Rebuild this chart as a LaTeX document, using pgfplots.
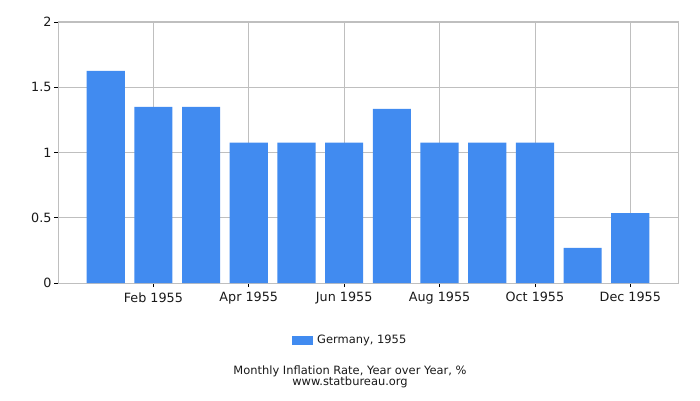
\documentclass[border=0pt]{standalone}
\usepackage{pgfplots}
\pgfplotsset{compat=1.18}
\usepackage{fontspec}
\setmainfont{DejaVu Sans}
\definecolor{barblue}{HTML}{418BF0}
\definecolor{gridgrey}{HTML}{BFBFBF}
\newcommand{\lblfont}{\fontsize{11.5}{13}\selectfont}
\newcommand{\tickfont}{\fontsize{12.8}{14}\selectfont}
\begin{document}
\begin{tikzpicture}[x=1bp,y=1bp]
\path[use as bounding box] (0,0) rectangle (700,400);
\begin{axis}[
  at={(58bp,117bp)}, anchor=south west,
  scale only axis, width=620bp, height=261bp,
  xmin=0, xmax=13, ymin=0, ymax=2,
  ytick={0,0.5,1,1.5,2},
  yticklabels={0,0.5,1,1.5,2},
  xtick={2,4,6,8,10,12},
  xticklabels={Feb 1955,Apr 1955,Jun 1955,Aug 1955,Oct 1955,Dec 1955},
  xmajorgrids, ymajorgrids,
  grid style={gridgrey, line width=0.8bp},
  axis line style={gridgrey, line width=1bp},
  tick style={black, line width=0.8bp},
  tick align=outside,
  major tick length=4bp,
  xtick pos=bottom, ytick pos=left,
  xticklabel style={font=\tickfont, text=black!90, yshift=-2bp},
  yticklabel style={font=\tickfont, text=black!90, xshift=1bp},
  /pgf/number format/assume math mode=true,
  ybar, bar width=0.8, bar shift=0pt,
]
\addplot[fill=barblue, draw=none] coordinates {
 (1,1.625) (2,1.35) (3,1.35) (4,1.075) (5,1.075) (6,1.075)
 (7,1.335) (8,1.075) (9,1.075) (10,1.075) (11,0.27) (12,0.535)
};
\end{axis}
\fill[barblue] (292,55) rectangle (313,64);
\node[anchor=west, font=\lblfont, text=black!90, inner sep=0] at (317,59.5) {Germany, 1955};
\node[font=\lblfont, text=black!90, inner sep=0] at (350,29) {Monthly Inflation Rate, Year over Year, \%};
\node[font=\lblfont, text=black!90, inner sep=0] at (350,18) {www.statbureau.org};
\end{tikzpicture}
\end{document}
